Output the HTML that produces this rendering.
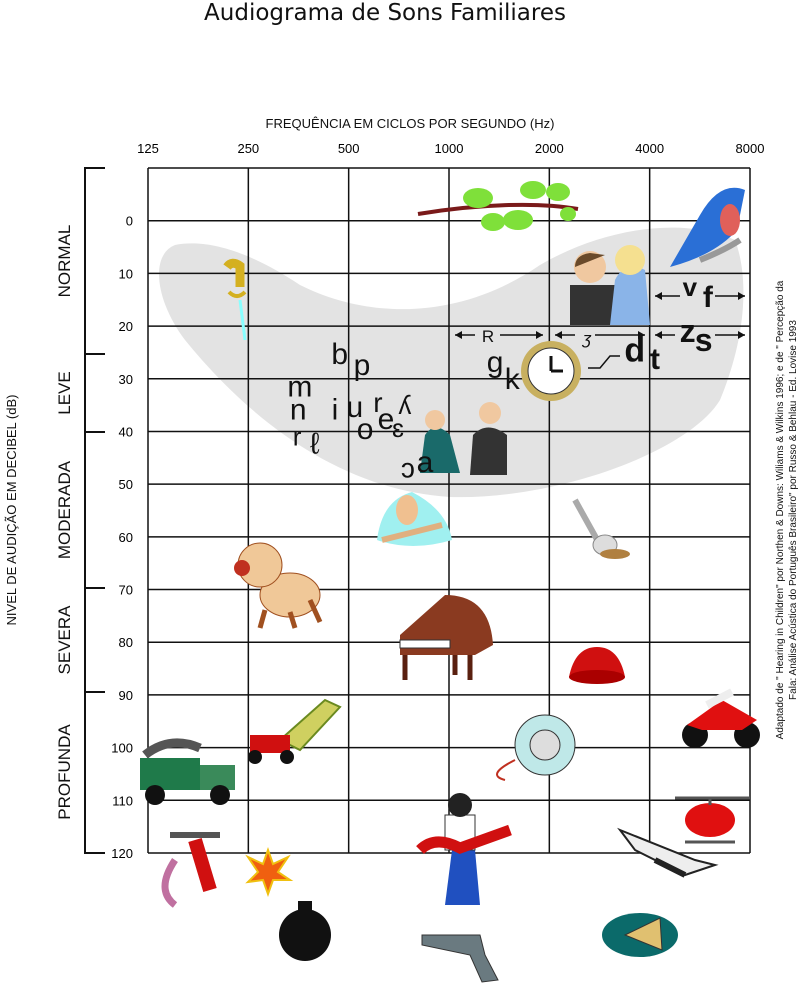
<!DOCTYPE html>
<html><head><meta charset="utf-8"><style>
html,body{margin:0;padding:0;background:#fff;}
svg{display:block;font-family:"Liberation Sans",sans-serif;}
</style></head><body>
<svg id="chart" width="800" height="988" viewBox="0 0 800 988" xmlns="http://www.w3.org/2000/svg">
<text x="385" y="20" text-anchor="middle" font-family="DejaVu Sans, sans-serif" font-size="23" fill="#111">Audiograma de Sons Familiares</text>
<text x="410" y="128" text-anchor="middle" font-size="13" fill="#111">FREQUÊNCIA EM CICLOS POR SEGUNDO (Hz)</text>
<path fill="#e3e3e3" d="M175,245 C200,240 240,245 300,285 C370,320 460,320 540,265 C600,230 680,215 735,240 C750,280 745,340 720,400 C690,450 560,500 450,497 C340,490 250,420 185,340 C155,300 150,255 175,245 Z"/>
<g id="grid"></g>
<g id="axes"></g>
<text transform="translate(16,510) rotate(-90)" text-anchor="middle" font-size="13" fill="#111">NIVEL DE AUDIÇÃO EM DECIBEL (dB)</text>
<g stroke="#111" stroke-width="2" fill="none">
<path d="M105,168 H85 V853 H105 M85,354 H105 M85,432 H105 M85,588 H105 M85,692 H105"/>
</g>
<g font-size="17" fill="#111" text-anchor="middle">
<text transform="translate(70,261) rotate(-90)">NORMAL</text>
<text transform="translate(70,393) rotate(-90)">LEVE</text>
<text transform="translate(70,510) rotate(-90)">MODERADA</text>
<text transform="translate(70,640) rotate(-90)">SEVERA</text>
<text transform="translate(70,772) rotate(-90)">PROFUNDA</text>
</g>
<text transform="translate(783,510) rotate(-90)" text-anchor="middle" font-size="10" fill="#111">Adaptado de " Hearing in Children" por Northen &amp; Downs: Wiliams &amp; Wilkins 1996; e de " Percepção da</text>
<text transform="translate(796,510) rotate(-90)" text-anchor="middle" font-size="10" fill="#111">Fala: Análise Acústica do Português Brasileiro" por Russo &amp; Behlau - Ed. Lovise 1993</text>

<g>
<g transform="translate(498,200)"><path d="M-80,14 C-20,4 40,2 80,9" stroke="#7a1a1a" stroke-width="4" fill="none"/><ellipse cx="-20" cy="-2" rx="15" ry="10" fill="#7fe03a"/><ellipse cx="20" cy="20" rx="15" ry="10" fill="#7fe03a"/><ellipse cx="35" cy="-10" rx="13" ry="9" fill="#7fe03a"/><ellipse cx="60" cy="-8" rx="12" ry="9" fill="#7fe03a"/><ellipse cx="-5" cy="22" rx="12" ry="9" fill="#7fe03a"/><ellipse cx="70" cy="14" rx="8" ry="7" fill="#7fe03a"/></g>
<g transform="translate(705,225)"><path d="M-35,42 L-5,-10 Q15,-45 40,-35 L32,5 Q10,30 -35,42Z" fill="#2a6fd6"/><ellipse cx="25" cy="-5" rx="10" ry="16" fill="#e0605a"/><path d="M-5,35 Q20,25 35,15" stroke="#999" stroke-width="6" fill="none"/></g>
<g transform="translate(600,275)"><rect x="-30" y="10" width="55" height="40" fill="#333"/><circle cx="-10" cy="-8" r="16" fill="#f0c8a0"/><path d="M-10,-22 Q-25,-20 -25,-8 L5,-20Z" fill="#6a4a2a"/><path d="M10,50 L15,5 Q25,-15 45,-5 L50,50Z" fill="#8ab4e8"/><circle cx="30" cy="-15" r="15" fill="#f5e090"/></g>
<g transform="translate(551,371)"><circle r="30" fill="#c8b060"/><circle r="23" fill="#fff" stroke="#333"/><path d="M0,0 V-15 M0,0 H12" stroke="#111" stroke-width="3"/></g>
<g transform="translate(232,272)"><path d="M-5,-5 Q0,-12 8,-6 L8,15" stroke="#d4b020" stroke-width="9" fill="none"/><path d="M-3,20 Q5,28 13,20" stroke="#d4b020" stroke-width="4" fill="none"/><path d="M8,28 L13,68" stroke="#8ff" stroke-width="3"/></g>
<g transform="translate(465,435)"><path d="M-45,38 L-40,0 Q-30,-15 -15,0 L-5,38Z" fill="#1a6a6a"/><circle cx="-30" cy="-15" r="10" fill="#f0c8a0"/><path d="M5,40 L8,0 Q22,-15 42,0 L42,40Z" fill="#333"/><circle cx="25" cy="-22" r="11" fill="#f0c8a0"/></g>
<g transform="translate(412,520)"><path d="M-35,20 Q-30,-20 0,-28 Q35,-10 40,20 Q0,32 -35,20Z" fill="#a0f0f0"/><ellipse cx="-5" cy="-10" rx="11" ry="15" fill="#f0c090"/><path d="M-30,20 L30,5" stroke="#e0b080" stroke-width="6"/></g>
<g transform="translate(595,530)"><path d="M-20,-30 L5,15" stroke="#aaa" stroke-width="6"/><ellipse cx="10" cy="15" rx="12" ry="10" fill="#ddd" stroke="#888"/><ellipse cx="20" cy="24" rx="15" ry="5" fill="#b08040"/></g>
<g transform="translate(270,580)"><ellipse cx="20" cy="15" rx="30" ry="22" fill="#f0c898" stroke="#a05020"/><circle cx="-10" cy="-15" r="22" fill="#f0c898" stroke="#a05020"/><circle cx="-28" cy="-12" r="8" fill="#c03020"/><path d="M-5,30 L-10,48 M20,32 L25,48 M40,20 L50,42" stroke="#a05020" stroke-width="5"/></g>
<g transform="translate(445,640)"><path d="M-45,-5 L0,-45 Q45,-45 48,5 L30,15 L-45,15Z" fill="#8a3a20"/><rect x="-45" y="0" width="50" height="8" fill="#fff" stroke="#333"/><path d="M-40,15 V40 M25,15 V40 M10,15 V35" stroke="#5a2010" stroke-width="5"/></g>
<g transform="translate(597,665)"><path d="M-28,12 Q-22,-18 0,-18 Q22,-18 28,12Z" fill="#d01010"/><ellipse cy="12" rx="28" ry="7" fill="#a00"/></g>
<g transform="translate(722,720)"><circle cx="-27" cy="15" r="13" fill="#111"/><circle cx="25" cy="15" r="13" fill="#111"/><path d="M-35,5 L0,-20 L35,0 L20,10 L-20,10Z" fill="#e01010"/><path d="M-15,-15 L10,-28" stroke="#eee" stroke-width="8"/></g>
<g transform="translate(295,735)"><path d="M-15,5 L30,-35 L45,-28 L5,15Z" fill="#cfd060" stroke="#6a8a20" stroke-width="2"/><rect x="-45" y="0" width="40" height="18" fill="#d01010"/><circle cx="-40" cy="22" r="7" fill="#111"/><circle cx="-8" cy="22" r="7" fill="#111"/></g>
<g transform="translate(190,770)"><rect x="-50" y="-12" width="60" height="32" fill="#1f7a4a"/><rect x="10" y="-5" width="35" height="25" fill="#3a8a5a"/><circle cx="-35" cy="25" r="10" fill="#111"/><circle cx="30" cy="25" r="10" fill="#111"/><path d="M-45,-15 Q-20,-35 10,-22" stroke="#555" stroke-width="9" fill="none"/></g>
<g transform="translate(545,745)"><circle r="30" fill="#bfe8e8" stroke="#333"/><circle r="15" fill="#ddd" stroke="#333"/><path d="M-30,15 Q-60,30 -40,35" stroke="#c03020" stroke-width="2" fill="none"/></g>
<g transform="translate(710,810)"><ellipse cx="0" cy="10" rx="25" ry="17" fill="#e01010"/><path d="M-35,-12 H40 M0,-12 V-5" stroke="#555" stroke-width="3"/><path d="M-25,32 H25" stroke="#555" stroke-width="3"/></g>
<g transform="translate(460,840)"><path d="M-15,65 L-8,10 L15,10 L20,65Z" fill="#2050c0"/><rect x="-15" y="-25" width="30" height="35" fill="#fff" stroke="#333"/><circle cy="-35" r="12" fill="#222"/><path d="M-40,10 Q-25,-5 0,8 L50,-10" stroke="#d01010" stroke-width="11" fill="none"/></g>
<g transform="translate(195,860)"><path d="M-25,-25 H25" stroke="#555" stroke-width="6"/><path d="M0,-20 L15,30" stroke="#d01010" stroke-width="14"/><path d="M-20,0 Q-40,30 -20,45" stroke="#c070a0" stroke-width="7" fill="none"/></g>
<g transform="translate(268,872)"><path d="M0,-22 L5,-8 L20,-15 L10,0 L22,8 L5,8 L0,22 L-5,8 L-20,10 L-10,0 L-20,-15 L-5,-8Z" fill="#f06010" stroke="#f0c010" stroke-width="2"/></g>
<g transform="translate(305,935)"><circle r="26" fill="#111"/><rect x="-7" y="-34" width="14" height="10" fill="#111"/></g>
<g transform="translate(665,850)"><path d="M-45,-20 L30,10 L50,15 L20,25 L-30,0Z" fill="#eee" stroke="#222" stroke-width="2"/><path d="M-10,10 L20,25" stroke="#222" stroke-width="6"/></g>
<g transform="translate(640,930)"><ellipse cx="0" cy="5" rx="38" ry="22" fill="#0b6a6a"/><path d="M-15,5 L20,-12 L22,20Z" fill="#e0c070" stroke="#333"/></g>
<g transform="translate(460,950)"><path d="M-38,-15 H20 L25,5 L38,30 L22,32 L10,5 L-38,-5Z" fill="#6a7a80" stroke="#333"/></g>
</g>

<g id="phonemes"></g>
<g stroke="#111" stroke-width="1.5" fill="#111">
<path d="M455,335 H475 M500,335 H543 M555,335 H575 M595,335 H645 M655,335 H675 M715,335 H745 M655,296 H680 M715,296 H745"/>
<path d="M455,335 l7,-4 v8z M543,335 l-7,-4 v8z M555,335 l7,-4 v8z M645,335 l-7,-4 v8z M655,335 l7,-4 v8z M745,335 l-7,-4 v8z M655,296 l7,-4 v8z M745,296 l-7,-4 v8z" stroke="none"/>
<text x="488" y="342" text-anchor="middle" stroke="none" font-size="17">R</text>
<text x="587" y="344" text-anchor="middle" stroke="none" font-style="italic" font-size="17">ʒ</text>
<path d="M588,368 L600,368 L610,356 L620,356" fill="none"/>
</g>
<script>
const freqLabels=["125","250","500","1000","2000","4000","8000"];
const dbTicks=[0,10,20,30,40,50,60,70,80,90,100,110,120];
const phonemes=["b","p","m","n","r","ℓ","i","u","o","r","e","ɛ","ʎ","ɔ","a","g","k","d","t","v","f","z","s"];
const phonFreq=[470,548,357,353,350,396,455,522,560,612,647,703,737,753,847,1375,1548,3610,4150,5280,5980,5200,5810];
const phonDb=[25.5,27.6,31.7,36,41,42.5,36,35.5,39.7,34.6,37.8,39.3,35,47,46,27,30.2,25,26.4,12.6,14.7,21.3,23];
const phonSize=[30,30,30,30,26,30,30,30,30,28,30,26,26,28,30,30,30,34,30,26,30,32,32];
const phonBold=[0,0,0,0,0,0,0,0,0,0,0,0,0,0,0,0,0,1,1,1,1,1,1];
const NS="http://www.w3.org/2000/svg";
const x0=148,x1=750,yTop=168,yBot=853;
function xs(f){return x0+Math.log2(f/125)*(x1-x0)/6;}
function ys(d){return yTop+(d+10)*(yBot-yTop)/130;}
const grid=document.getElementById('grid');
const axes=document.getElementById('axes');
function line(g,a,b,c,d,name){const l=document.createElementNS(NS,'line');l.setAttribute('x1',a);l.setAttribute('y1',b);l.setAttribute('x2',c);l.setAttribute('y2',d);l.setAttribute('stroke','#111');l.setAttribute('stroke-width','1.5');


g.appendChild(l);}
freqLabels.forEach(function(lab){const f=+lab;const x=xs(f);line(grid,x,yTop,x,yBot,'grid-v-'+lab);
const t=document.createElementNS(NS,'text');t.setAttribute('x',x);t.setAttribute('y',153);t.setAttribute('text-anchor','middle');t.setAttribute('font-size','13');t.textContent=lab;


axes.appendChild(t);});
line(grid,x0,yTop,x1,yTop,'grid-top');
dbTicks.forEach(function(d){const y=ys(d);line(grid,x0,y,x1,y,'grid-h-'+d);
const t=document.createElementNS(NS,'text');t.setAttribute('x',133);t.setAttribute('y',y+5);t.setAttribute('text-anchor','end');t.setAttribute('font-size','13');t.textContent=d;


axes.appendChild(t);});
const pg=document.getElementById('phonemes');
phonemes.forEach(function(p,i){const t=document.createElementNS(NS,'text');t.setAttribute('x',xs(phonFreq[i]));t.setAttribute('y',ys(phonDb[i])+9);t.setAttribute('text-anchor','middle');t.setAttribute('font-size',phonSize[i]);t.setAttribute('fill','#111');if(phonBold[i])t.setAttribute('font-weight','bold');t.textContent=p;


pg.appendChild(t);});
</script>
</svg>
</body></html>
